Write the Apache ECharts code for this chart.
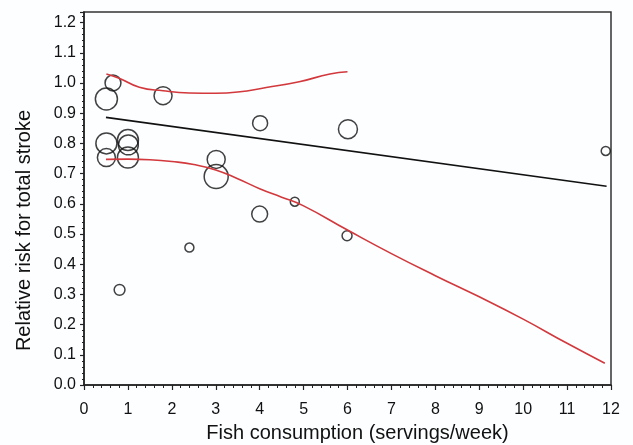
<!DOCTYPE html>
<html>
<head>
<meta charset="utf-8">
<title>Fish consumption and stroke</title>
<script src="https://cdn.jsdelivr.net/npm/echarts@6/dist/echarts.min.js"></script>
<style>
  html, body { margin: 0; padding: 0; background: #fdfeff; }
  #chart { width: 633px; height: 445px; }
</style>
</head>
<body>
<div id="chart"></div>
<script>
// study points: fish servings/week, relative risk, study weight
var studyX = [0.51, 0.66, 1.80, 4.01, 6.01, 11.88, 0.51, 0.51, 1.00, 1.01, 1.00, 3.01, 3.01, 4.00, 4.80, 5.99, 2.40, 0.81];
var studyRR = [0.947, 1.000, 0.958, 0.867, 0.847, 0.775, 0.800, 0.753, 0.811, 0.795, 0.753, 0.747, 0.690, 0.566, 0.607, 0.494, 0.455, 0.315];
var studyWeight = [54, 28, 36, 25, 40, 9, 49, 36, 49, 44, 49, 36, 64, 28, 9, 11, 9, 13];

// pooled trend line
var trendX = [0.5, 11.9];
var trendRR = [0.886, 0.658];

// confidence bands
var upperX = [0.51, 0.8, 1.26, 1.8, 2.4, 3.0, 3.5, 4.15, 4.9, 5.6, 6.0];
var upperRR = [1.030, 1.016, 0.986, 0.974, 0.967, 0.966, 0.970, 0.985, 1.004, 1.030, 1.037];
var lowerX = [0.5, 1.0, 1.5, 2.0, 2.5, 3.0, 3.5, 4.0, 4.5, 5.0, 6.0, 7.0, 8.0, 9.0, 10.0, 11.0, 11.86];
var lowerRR = [0.747, 0.748, 0.746, 0.740, 0.730, 0.712, 0.683, 0.650, 0.622, 0.593, 0.513, 0.435, 0.362, 0.292, 0.218, 0.138, 0.072];

function pairs(xs, ys) {
  return xs.map(function (x, i) { return [x, ys[i]]; });
}

var myChart = echarts.init(document.getElementById('chart'));

var axisFont = { fontFamily: 'Liberation Sans', fontSize: 16, color: '#111' };

option = {
  animation: false,
  backgroundColor: '#fdfeff',
  grid: {
    left: 84, right: 22, top: 12, bottom: 60,
    outerBoundsMode: 'none',
    show: true,
    borderColor: '#333',
    borderWidth: 1.5,
    backgroundColor: 'transparent'
  },
  xAxis: {
    type: 'value',
    min: 0, max: 12, interval: 1,
    name: 'Fish consumption (servings/week)',
    nameLocation: 'middle',
    nameGap: 38,
    nameTextStyle: { fontFamily: 'Liberation Sans', fontSize: 20, color: '#111', padding: [0, 0, 0, 20] },
    axisLine: { lineStyle: { color: '#222', width: 1.5 } },
    axisTick: { length: 5, lineStyle: { color: '#222', width: 1.2 } },
    minorTick: { show: true, splitNumber: 5, length: 3, lineStyle: { color: '#222', width: 1 } },
    axisLabel: Object.assign({ margin: 17 }, axisFont),
    splitLine: { show: false }
  },
  yAxis: {
    type: 'value',
    min: 0, max: 1.235, interval: 0.1,
    name: 'Relative risk for total stroke',
    nameLocation: 'middle',
    nameGap: 50,
    nameTextStyle: { fontFamily: 'Liberation Sans', fontSize: 20, color: '#111', padding: [0, 64, 0, 0] },
    axisLine: { lineStyle: { color: '#222', width: 1.5 } },
    axisTick: { length: 4, lineStyle: { color: '#222', width: 1.2 } },
    minorTick: { show: true, splitNumber: 5, length: 2, lineStyle: { color: '#222', width: 1 } },
    axisLabel: Object.assign({
      margin: 8,
      showMaxLabel: false,
      formatter: function (v) { return v.toFixed(1); }
    }, axisFont),
    splitLine: { show: false }
  },
  series: [
    {
      type: 'scatter',
      data: studyX.map(function (x, i) { return [x, studyRR[i], studyWeight[i]]; }),
      symbol: 'circle',
      symbolSize: function (d) { return Math.sqrt(d[2]) * 3; },
      itemStyle: { color: 'rgba(0,0,0,0)', borderColor: '#111', borderWidth: 1.5 },
      z: 2
    },
    {
      type: 'line',
      data: pairs(trendX, trendRR),
      showSymbol: false,
      lineStyle: { color: '#111', width: 1.6 },
      z: 3
    },
    {
      type: 'line',
      data: pairs(upperX, upperRR),
      smooth: true,
      showSymbol: false,
      lineStyle: { color: '#d2383c', width: 1.6 },
      z: 3
    },
    {
      type: 'line',
      data: pairs(lowerX, lowerRR),
      smooth: true,
      showSymbol: false,
      lineStyle: { color: '#d2383c', width: 1.6 },
      z: 3
    }
  ]
};
myChart.setOption(option);
</script>
</body>
</html>
